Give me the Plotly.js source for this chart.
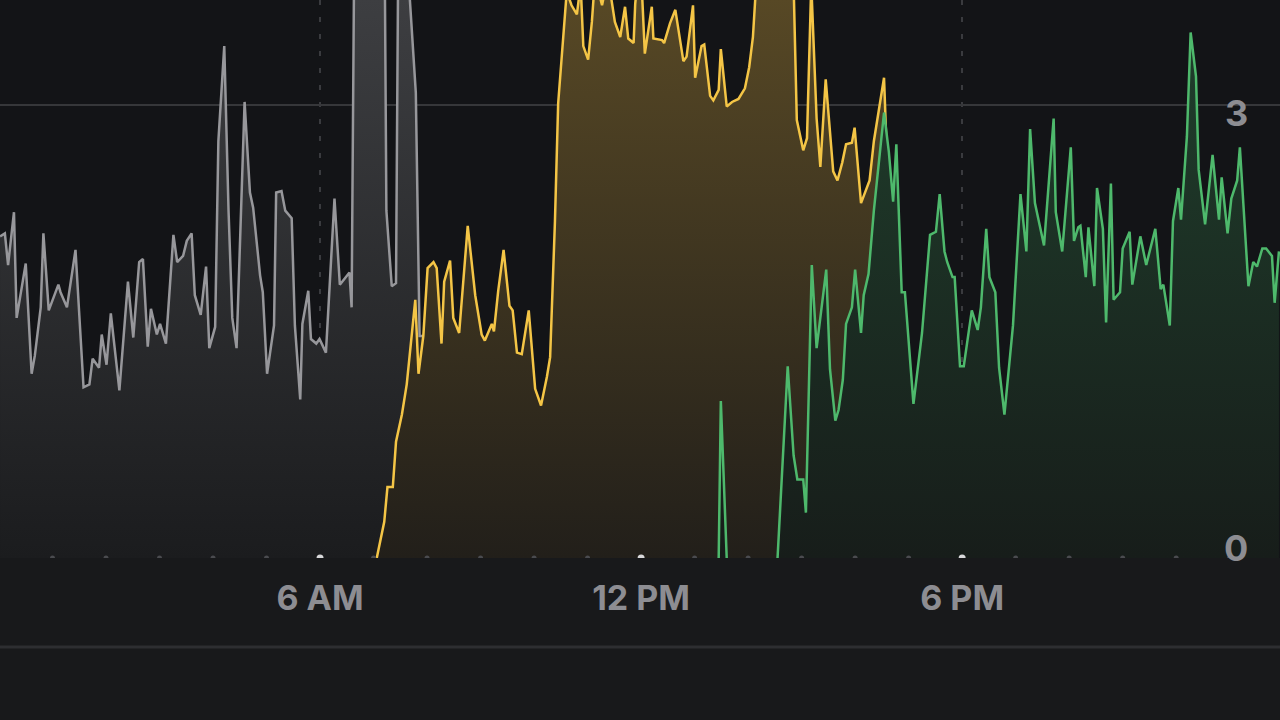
<!DOCTYPE html>
<html>
<head>
<meta charset="utf-8">
<script src="https://cdn.plot.ly/plotly-3.0.1.min.js"></script>
<style>
  html, body { margin: 0; padding: 0; background: #18191b; }
  #chart { width: 1280px; height: 720px; }
</style>
</head>
<body>
<div id="chart"></div>
<script>
// Time of day in hours (0 = midnight)
const grayTime = [0.02,0.11,0.17,0.28,0.33,0.50,0.61,0.67,0.78,0.83,
  0.93,1.11,1.15,1.27,1.43,1.58,1.69,1.75,1.87,1.92,
  2.01,2.09,2.25,2.41,2.51,2.62,2.69,2.78,2.84,2.95,
  3.01,3.12,3.26,3.33,3.44,3.51,3.60,3.66,3.77,3.87,
  3.93,4.04,4.10,4.21,4.29,4.36,4.44,4.59,4.69,4.75,
  4.88,4.93,5.01,5.14,5.18,5.28,5.35,5.47,5.53,5.63,
  5.67,5.78,5.83,5.93,5.99,6.11,6.27,6.37,6.55,6.59,
  6.67,7.18,7.24,7.34,7.42,7.49,7.57,7.79,7.86,7.93];
const grayVal = [2.13,2.15,1.94,2.29,1.59,1.95,1.22,1.34,1.66,2.15,
  1.64,1.81,1.76,1.66,2.04,1.13,1.15,1.32,1.26,1.48,
  1.28,1.62,1.11,1.83,1.46,1.96,1.98,1.40,1.65,1.48,
  1.55,1.42,2.14,1.96,2.00,2.10,2.15,1.74,1.61,1.93,
  1.39,1.53,2.76,3.39,2.30,1.59,1.39,3.02,2.42,2.32,
  1.87,1.76,1.22,1.54,2.42,2.43,2.30,2.25,1.54,1.05,
  1.55,1.77,1.45,1.42,1.45,1.36,2.38,1.81,1.89,1.66,
  5.50,5.50,2.30,1.80,1.82,5.50,4.30,3.08,1.47,1.47];

const yellowTime = [7.06,7.20,7.26,7.36,7.42,7.53,7.62,7.78,7.84,7.93,
  8.01,8.12,8.18,8.27,8.32,8.43,8.49,8.60,8.76,8.90,
  9.02,9.08,9.21,9.25,9.33,9.43,9.54,9.60,9.68,9.77,
  9.90,10.02,10.13,10.24,10.30,10.39,10.45,10.55,10.61,10.70,
  10.80,10.87,10.92,11.01,11.08,11.14,11.27,11.38,11.51,11.61,
  11.70,11.76,11.86,11.89,11.94,12.01,12.07,12.20,12.23,12.39,
  12.43,12.54,12.64,12.79,12.85,12.97,13.01,13.13,13.18,13.29,
  13.35,13.45,13.49,13.60,13.70,13.82,13.94,14.02,14.09,14.15,
  14.50,14.85,14.91,15.03,15.10,15.18,15.28,15.35,15.45,15.59,
  15.67,15.76,15.83,15.94,15.99,16.11,16.27,16.35,16.54,16.59];
const yellowVal = [0.00,0.24,0.47,0.47,0.77,0.95,1.15,1.71,1.22,1.47,
  1.92,1.96,1.92,1.42,1.83,1.97,1.59,1.49,2.20,1.74,
  1.48,1.44,1.55,1.50,1.77,2.04,1.67,1.64,1.36,1.35,
  1.64,1.12,1.01,1.20,1.33,2.23,3.01,3.45,3.75,3.66,
  3.60,3.80,3.39,3.30,3.55,3.85,3.66,3.85,3.55,3.45,
  3.65,3.44,3.41,3.67,3.85,3.80,3.34,3.65,3.44,3.43,
  3.41,3.54,3.63,3.29,3.32,3.66,3.18,3.39,3.40,3.06,
  3.03,3.10,3.37,2.99,3.02,3.04,3.11,3.25,3.45,3.80,
  4.00,3.80,2.90,2.70,2.78,3.80,2.91,2.59,3.17,2.56,
  2.50,2.62,2.74,2.75,2.85,2.35,2.50,2.76,3.18,2.69];

const greenTime = [13.45,13.49,13.60,null,14.55,14.74,14.85,14.92,15.03,15.08,
  15.19,15.28,15.46,15.53,15.63,15.69,15.77,15.83,15.94,16.00,
  16.11,16.16,16.25,16.35,16.54,16.63,16.71,16.77,16.87,16.93,
  17.09,17.25,17.40,17.51,17.58,17.67,17.72,17.82,17.86,17.96,
  18.03,18.18,18.29,18.35,18.45,18.51,18.62,18.69,18.79,18.95,
  19.09,19.20,19.27,19.36,19.53,19.71,19.75,19.87,20.03,20.09,
  20.17,20.21,20.31,20.36,20.47,20.52,20.63,20.69,20.78,20.83,
  20.95,21.00,21.13,21.18,21.33,21.44,21.61,21.71,21.76,21.88,
  21.94,22.04,22.09,22.20,22.27,22.37,22.42,22.54,22.68,22.80,
  22.85,22.96,23.03,23.14,23.19,23.35,23.44,23.51,23.61,23.68,
  23.79,23.84,23.92];
const greenVal = [0.00,1.04,0.00,null,0.00,1.27,0.68,0.52,0.52,0.30,
  1.94,1.39,1.91,1.25,0.91,0.98,1.18,1.55,1.66,1.91,
  1.49,1.74,1.88,2.30,2.95,2.69,2.36,2.74,1.76,1.76,
  1.02,1.49,2.14,2.16,2.41,2.03,1.96,1.86,1.86,1.27,
  1.27,1.64,1.51,1.66,2.18,1.86,1.76,1.26,0.95,1.54,
  2.41,2.03,2.84,2.35,2.07,2.91,2.29,2.03,2.72,2.10,
  2.19,2.20,1.86,2.19,1.80,2.45,2.18,1.56,2.48,1.71,
  1.76,2.05,2.16,1.81,2.13,1.94,2.18,1.78,1.81,1.54,
  2.23,2.45,2.24,2.79,3.48,3.19,2.57,2.21,2.67,2.24,
  2.52,2.15,2.38,2.50,2.72,1.80,1.96,1.93,2.05,2.05,
  2.00,1.69,2.03];

const tickHours = [6, 12, 18];
const tickLabels = ['6 AM', '12 PM', '6 PM'];
const minorDotHours = [1,2,3,4,5,7,8,9,10,11,13,14,15,16,17,19,20,21,22,23];
const yLabels = ['0', '3'];
const yLabelValues = [0, 3];

const FONT = 'Inter, "Noto Sans", sans-serif';
const LABEL_COLOR = '#8d8d92';

function areaTrace(x, y, line, bottom, top) {
  return {
    type: 'scatter', mode: 'lines', x: x, y: y,
    line: { color: line, width: 2.5, shape: 'linear' },
    fill: 'tozeroy',
    fillgradient: { type: 'vertical', start: 0, stop: 3.7,
      colorscale: [[0, bottom], [1, top]] },
    connectgaps: false, hoverinfo: 'skip', showlegend: false
  };
}

const traces = [
  areaTrace(grayTime, grayVal, '#97979b', '#1b1c1e', '#3d3e41'),
  areaTrace(yellowTime, yellowVal, '#f4c546', '#221f1a', '#574825'),
  areaTrace(greenTime, greenVal, '#4eb96c', '#171d1a', '#20402d'),
  { type: 'scatter', mode: 'markers', x: minorDotHours,
    y: minorDotHours.map(() => 0),
    marker: { size: 5, color: '#4a4b4f' }, cliponaxis: true,
    hoverinfo: 'skip', showlegend: false },
  { type: 'scatter', mode: 'markers', x: tickHours,
    y: tickHours.map(() => 0),
    marker: { size: 7, color: '#d8d8da' }, cliponaxis: true,
    hoverinfo: 'skip', showlegend: false }
];

const annotations = yLabels.map((t, i) => ({
  text: t, xref: 'paper', yref: 'y', x: 0.9766, y: yLabelValues[i],
  xanchor: 'right', yanchor: 'middle', showarrow: false,
  yshift: yLabelValues[i] === 0 ? 10 : -8,
  font: { family: FONT, size: 36, weight: 700, color: LABEL_COLOR }
}));

const layout = {
  width: 1280, height: 720,
  margin: { l: 0, r: 0, t: 0, b: 162, pad: 0 },
  paper_bgcolor: '#18191b',
  plot_bgcolor: '#131417',
  showlegend: false,
  xaxis: {
    range: [0.019, 23.94], tickmode: 'array', tickvals: tickHours, ticktext: tickLabels,
    showgrid: true, gridcolor: '#3a3b3f', gridwidth: 2, griddash: '5px,12px',
    zeroline: false, showline: false, ticks: '', ticklabelstandoff: 17,
    tickfont: { family: FONT, size: 34, weight: 700, color: LABEL_COLOR },
    fixedrange: true
  },
  yaxis: {
    range: [0, 3.695], side: 'right', tickmode: 'array', tickvals: [3],
    showticklabels: false, showgrid: true, gridcolor: '#36373a', gridwidth: 2,
    zeroline: false, showline: false, ticks: '', fixedrange: true
  },
  annotations: annotations,
  shapes: [{
    type: 'line', xref: 'paper', yref: 'paper', x0: 0, x1: 1,
    y0: -0.1595, y1: -0.1595, line: { color: '#2d2e31', width: 3 }
  }]
};

Plotly.newPlot('chart', traces, layout, { displayModeBar: false, staticPlot: true });
</script>
</body>
</html>
